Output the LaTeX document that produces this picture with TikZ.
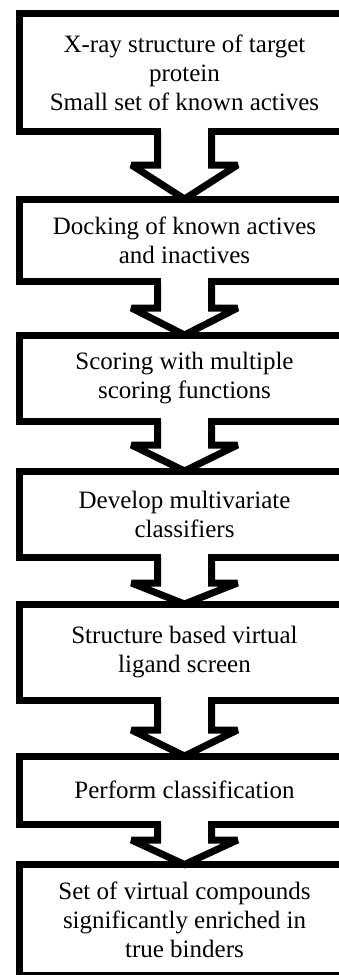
\documentclass[tikz,border=0pt]{standalone}
\usepackage{fontspec}
\setmainfont{Liberation Serif}
\usetikzlibrary{calc}
\tikzset{
  stage/.style={draw=black, line width=7pt, fill=white, minimum width=331pt,
    inner sep=0pt, outer sep=0pt, align=center,
    font=\fontsize{25}{29}\selectfont, text=black},
  barrow/.style={draw=black, line width=7pt, line join=miter, miter limit=3},
}
\newcommand\flowarrow[3]{%
  \fill[white] ($(#1.south)+(-23.5,-3.6)$) rectangle ($(#1.south)+(23.5,3.6)$);
  \draw[barrow] ($(#1.south)+(-27,0)$) -- ($(#1.south)+(-27,#3)$)
    -- ($(#1.south)+(-53,#3)$) -- (#2.north) -- ($(#1.south)+(53,#3)$)
    -- ($(#1.south)+(27,#3)$) -- ($(#1.south)+(27,0)$);
}
\begin{document}
\begin{tikzpicture}[x=1pt,y=-1pt]
\useasboundingbox (0,0) rectangle (339,975);
\clip (0,0) rectangle (339,975);
\node[stage, minimum height=118pt] (b1) at (184.5,72.5)
  {X-ray structure of target\\protein\\Small set of known actives};
\node[stage, minimum height=82.5pt] (b2) at (184.5,240.25)
  {Docking of known actives\\and inactives};
\node[stage, minimum height=86.5pt] (b3) at (184.5,378.25)
  {Scoring with multiple\\scoring functions};
\node[stage, minimum height=86.5pt] (b4) at (184.5,514.25)
  {Develop multivariate\\classifiers};
\node[stage, minimum height=96.5pt] (b5) at (184.5,652.25)
  {Structure based virtual\\ligand screen};
\node[stage, minimum height=68.5pt] (b6) at (184.5,790.25)
  {Perform classification};
\node[stage, minimum height=111pt] (b7) at (184.5,920)
  {Set of virtual compounds\\significantly enriched in\\true binders};
\flowarrow{b1}{b2}{33.5}
\flowarrow{b2}{b3}{26.5}
\flowarrow{b3}{b4}{23.5}
\flowarrow{b4}{b5}{25.5}
\flowarrow{b5}{b6}{29.5}
\flowarrow{b6}{b7}{15.5}
\end{tikzpicture}
\end{document}
